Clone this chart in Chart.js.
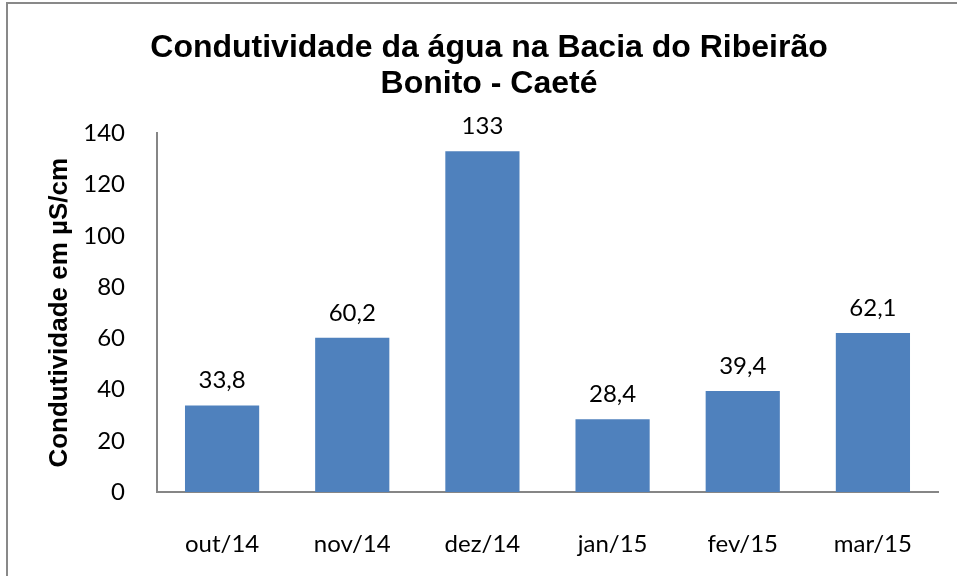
<!DOCTYPE html>
<html>
<head>
<meta charset="utf-8">
<script src="https://cdn.jsdelivr.net/npm/chart.js@4"></script>
<style>
  html, body { margin: 0; padding: 0; background: #fff; }
  #wrap { position: relative; width: 957px; height: 576px; overflow: hidden; }
  #frame { position: absolute; left: 6px; top: 2px; width: 1000px; height: 700px;
           border-left: 2px solid #898989; border-top: 2px solid #898989; }
  canvas { position: absolute; left: 0; top: 0; }
</style>
</head>
<body>
<div id="wrap">
  <div id="frame"></div>
  <canvas id="chart_div" width="957" height="576"></canvas>
</div>
<script>
const ctx = document.getElementById('chart_div');

// dados
const months = ['out/14', 'nov/14', 'dez/14', 'jan/15', 'fev/15', 'mar/15'];
const conductivity = [33.8, 60.2, 133, 28.4, 39.4, 62.1];
const yTicks = [0, 20, 40, 60, 80, 100, 120, 140];

const BAR_COLOR = '#4F81BD';
const AXIS_COLOR = '#868686';
const LABEL_FONT = 'Lato, "Open Sans", sans-serif';
const TITLE_FONT = '"Liberation Sans", Arial, sans-serif';

// rótulos de dados acima das barras
const valueLabels = {
    id: 'valueLabels',
    afterDatasetsDraw(chart) {
        const c = chart.ctx;
        const meta = chart.getDatasetMeta(0);
        c.save();
        c.font = '24px ' + LABEL_FONT;
        c.fillStyle = '#000';
        c.textAlign = 'center';
        c.textBaseline = 'middle';
        meta.data.forEach((bar, i) => {
            const txt = String(conductivity[i]).replace('.', ',');
            c.fillText(txt, bar.x, bar.y - 25);
        });
        c.restore();
    }
};

new Chart(ctx, {
    type: 'bar',
    data: {
        labels: months,
        datasets: [{
            data: conductivity,
            backgroundColor: BAR_COLOR,
            barPercentage: 0.57,
            categoryPercentage: 1.0
        }]
    },
    options: {
        responsive: false,
        animation: false,
        layout: {
            padding: { left: 40, right: 19, top: 0, bottom: 0 }
        },
        plugins: {
            legend: { display: false },
            tooltip: { enabled: false },
            title: {
                display: true,
                text: ['Condutividade da água na Bacia do Ribeirão', 'Bonito - Caeté'],
                color: '#000',
                font: { family: TITLE_FONT, size: 32, weight: 'bold', lineHeight: 1.1 },
                padding: { top: 31, bottom: 32 }
            }
        },
        scales: {
            x: {
                grid: { display: false },
                border: { display: true, color: AXIS_COLOR, width: 2 },
                ticks: {
                    color: '#000',
                    font: { family: LABEL_FONT, size: 24 },
                    padding: 30,
                    maxRotation: 0
                },
                afterFit(scale) { scale.height = 84; }
            },
            y: {
                min: 0,
                max: 140,
                grid: { display: false },
                border: { display: true, color: AXIS_COLOR, width: 2 },
                afterBuildTicks(scale) {
                    scale.ticks = yTicks.map(v => ({ value: v }));
                },
                ticks: {
                    color: '#000',
                    font: { family: LABEL_FONT, size: 24 },
                    padding: 24
                },
                title: {
                    display: true,
                    text: 'Condutividade em µS/cm',
                    color: '#000',
                    font: { family: TITLE_FONT, size: 26, weight: 'bold' },
                    padding: { top: 4, bottom: 0 }
                },
                afterFit(scale) { scale.width = 117; }
            }
        }
    },
    plugins: [valueLabels]
});
</script>
</body>
</html>
